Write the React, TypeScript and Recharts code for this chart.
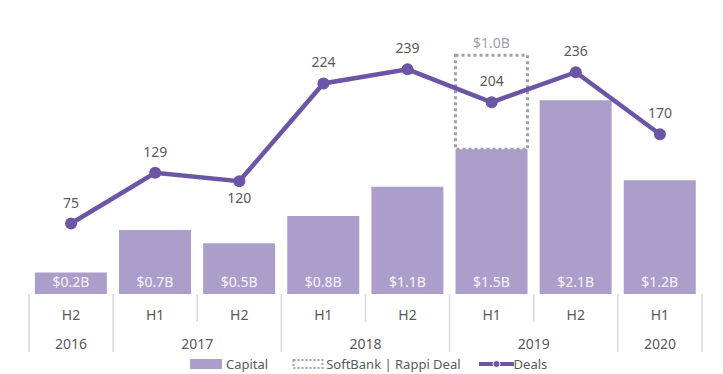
import React from "react"
import { ComposedChart, Bar, Line, XAxis, YAxis, Legend, LabelList } from "recharts"

const halves = ["H2", "H1", "H2", "H1", "H2", "H1", "H2", "H1"]
const years = ["2016", "2017", "2017", "2018", "2018", "2019", "2019", "2020"]
const capital = [0.23, 0.68, 0.54, 0.83, 1.14, 1.54, 2.06, 1.21]
const softbank = [null, null, null, null, null, 1.0, null, null]
const deals = [75, 129, 120, 224, 239, 204, 236, 170]

const data = halves.map((half, i) => ({
  half,
  year: years[i],
  capital: capital[i],
  softbank: softbank[i],
  deals: deals[i],
}))

const W = 723
const H = 374
const margin = { top: 12, right: 21, bottom: 0, left: 29 }
const band = (W - margin.left - margin.right) / halves.length

const BAR = "#ab9ecb"
const LINE = "#6b55a4"
const TEXT = "#595959"
const GRID = "#d9d9d9"
const DOTTED = "#a39db3"
const FONT = "'Noto Sans', sans-serif"

function AxisTick(props: any) {
  const { x, y, payload } = props
  const i = payload.index
  const yearStart = i === 0 || years[i] !== years[i - 1]
  const left = x - band / 2
  let yearLabel = null
  if (yearStart) {
    let n = 1
    while (i + n < years.length && years[i + n] === years[i]) n++
    yearLabel = (
      <text x={left + (band * n) / 2} y={y + 55} textAnchor="middle" fill={TEXT} fontSize={14}>
        {years[i]}
      </text>
    )
  }
  return (
    <g>
      <line x1={left} x2={left} y1={y} y2={y + (yearStart ? 58 : 28)} stroke={GRID} strokeWidth={1.5} />
      {i === halves.length - 1 && (
        <line x1={x + band / 2} x2={x + band / 2} y1={y} y2={y + 58} stroke={GRID} strokeWidth={1.5} />
      )}
      <text x={x} y={y + 26} textAnchor="middle" fill={TEXT} fontSize={14}>
        {payload.value}
      </text>
      {yearLabel}
    </g>
  )
}

function CapitalLabel(props: any) {
  const { x, y, width, height, value } = props
  return (
    <text x={x + width / 2} y={y + height - 7} textAnchor="middle" fill="#f6f4fa" fontSize={14}>
      {`$${Number(value).toFixed(1)}B`}
    </text>
  )
}

function SoftBankLabel(props: any) {
  const { x, y, width, value } = props
  if (value == null) return null
  return (
    <text x={x + width / 2} y={y - 7} textAnchor="middle" fill={DOTTED} fontSize={14}>
      {`$${Number(value).toFixed(1)}B`}
    </text>
  )
}

function DealLabel(props: any) {
  const { x, y, value, index } = props
  const below = index === 2
  return (
    <text x={x} y={below ? y + 22 : y - 16} textAnchor="middle" fill={TEXT} fontSize={14}>
      {value}
    </text>
  )
}

function ChartLegend() {
  return (
    <div
      style={{
        width: W,
        height: 20,
        display: "flex",
        alignItems: "center",
        fontFamily: FONT,
        fontSize: 13,
        color: TEXT,
        paddingLeft: 190,
        boxSizing: "border-box",
      }}
    >
      <span style={{ display: "inline-block", width: 32, height: 10, background: BAR, marginRight: 4 }} />
      <span style={{ marginRight: 24 }}>Capital</span>
      <svg width={32} height={12} style={{ marginRight: 2 }}>
        <rect x={1.5} y={2} width={29} height={8} fill="none" stroke={DOTTED} strokeWidth={2} strokeDasharray="2 2" />
      </svg>
      <span style={{ marginRight: 18 }}>SoftBank | Rappi Deal</span>
      <svg width={35} height={12}>
        <line x1={0} x2={35} y1={6} y2={6} stroke={LINE} strokeWidth={4} />
        <circle cx={17.5} cy={6} r={3.5} fill={LINE} stroke="#fff" strokeWidth={1} />
      </svg>
      <span>Deals</span>
    </div>
  )
}

export default function App() {
  return (
    <div style={{ position: "absolute", left: 0, top: 0, width: W, height: H, background: "#fff", fontFamily: FONT }}>
      <ComposedChart width={W} height={H} data={data} margin={margin} barCategoryGap="7%">
        <XAxis
          dataKey="half"
          xAxisId={0}
          axisLine={false}
          tickLine={false}
          tickSize={0}
          tickMargin={0}
          interval={0}
          height={60}
          tick={<AxisTick />}
        />
        <YAxis yAxisId="cap" domain={[0, 3]} hide />
        <YAxis yAxisId="deals" orientation="right" domain={[0, 300]} hide />
        <Legend verticalAlign="bottom" wrapperStyle={{ left: 0, width: W, height: 20 }} content={<ChartLegend />} />
        <Bar dataKey="capital" name="Capital" yAxisId="cap" stackId="c" fill={BAR} isAnimationActive={false}>
          <LabelList dataKey="capital" content={<CapitalLabel />} />
        </Bar>
        <Bar
          dataKey="softbank"
          name="SoftBank | Rappi Deal"
          yAxisId="cap"
          stackId="c"
          fill="none"
          stroke={DOTTED}
          strokeWidth={3}
          strokeDasharray="3 3"
          isAnimationActive={false}
        >
          <LabelList dataKey="softbank" content={<SoftBankLabel />} />
        </Bar>
        <Line
          dataKey="deals"
          name="Deals"
          yAxisId="deals"
          stroke={LINE}
          strokeWidth={4.5}
          dot={{ r: 6, fill: LINE, stroke: LINE, strokeWidth: 0 }}
          activeDot={false}
          isAnimationActive={false}
        >
          <LabelList dataKey="deals" content={<DealLabel />} />
        </Line>
      </ComposedChart>
    </div>
  )
}
